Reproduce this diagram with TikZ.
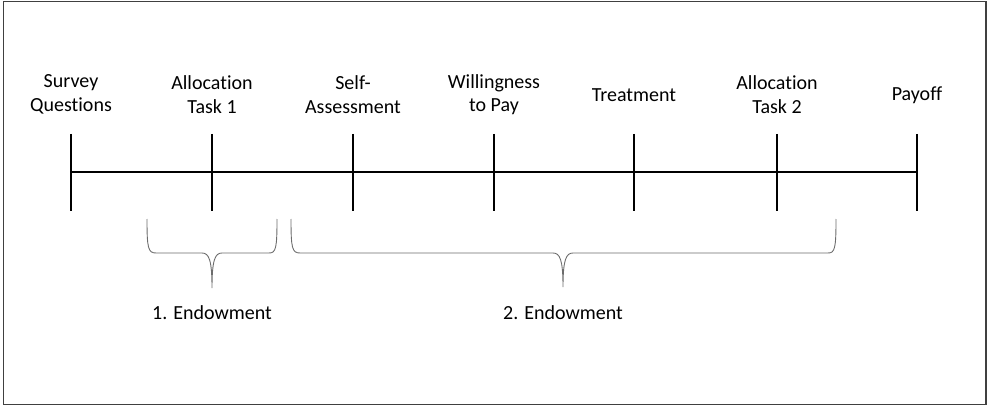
\documentclass[tikz,border=0pt]{standalone}
\usepackage{fontspec}
\setmainfont[Ligatures={NoCommon}]{Carlito}
\begin{document}
\begin{tikzpicture}[x=1pt,y=-1pt,
  lab/.style={align=center,font=\fontsize{20}{23.5}\selectfont,inner sep=0pt},
  tick/.style={line width=2pt,black},
  axis/.style={line width=2pt,black},
  brace/.style={line width=0.9pt,gray!85!black},
  frame/.style={line width=1.2pt,black!75}]
\useasboundingbox (0,0) rectangle (987,406);
\draw[frame] (3.5,1.5) rectangle (986,404.5);
% tick positions
\foreach \i/\x in {1/71,2/212,3/353,4/494,5/634,6/777,7/917}{
  \coordinate (t\i) at (\x,172);
  \coordinate (t\i u) at (\x,134);
  \coordinate (t\i d) at (\x,211);
}
\draw[axis] (t1) -- (t7);
\foreach \i in {1,...,7}{ \draw[tick] (t\i u) -- (t\i d); }
% labels
\node[lab] (l1) at (71,94.5) {Survey\\Questions};
\node[lab] (l2) at (212,94.5) {Allocation\\Task 1};
\node[lab] (l3) at (353,94.5) {Self-\\Assessment};
\node[lab] (l4) at (494,94.5) {Willingness\\to Pay};
\node[lab] (l5) at (634,95) {Treatment};
\node[lab] (l6) at (777,94.5) {Allocation\\Task 2};
\node[lab] (l7) at (917,95) {Payoff};
% brace 1
\draw[brace] (147,219) .. controls (147,248) and (148,253) .. (156,253)
  -- (202,253) .. controls (209,253) and (212,260) .. (212,288)
  .. controls (212,260) and (215,253) .. (222,253)
  -- (269,253) .. controls (276,253) and (277,248) .. (277,219);
% brace 2
\draw[brace] (291,219) .. controls (291,248) and (292,253) .. (300,253)
  -- (553,253) .. controls (560,253) and (563,260) .. (563,287)
  .. controls (563,260) and (566,253) .. (573,253)
  -- (828,253) .. controls (835,253) and (836,248) .. (836,219);
\node[lab] (e1) at (212,313) {1. Endowment};
\node[lab] (e2) at (563,313) {2. Endowment};
\end{tikzpicture}
\end{document}
